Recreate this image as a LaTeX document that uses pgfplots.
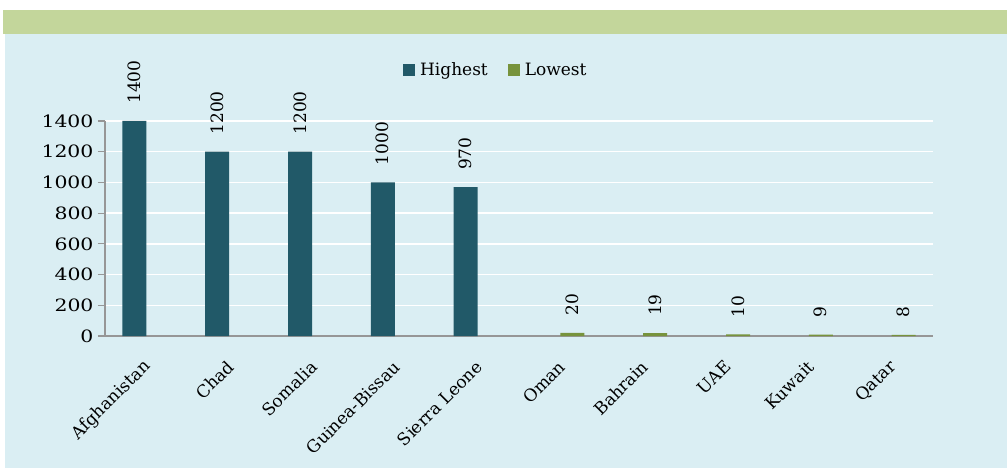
\documentclass[border=0pt]{standalone}
\usepackage{fontspec}
\setmainfont{DejaVu Serif}
\newfontfamily\widefont{DejaVu Serif}[FakeStretch=1.2]
\usepackage{pgfplots}
\pgfplotsset{compat=1.18}
\definecolor{bgblue}{RGB}{218,238,243}
\definecolor{bandgreen}{RGB}{195,214,155}
\definecolor{hiteal}{RGB}{33,89,104}
\definecolor{lowgreen}{RGB}{119,147,60}
\definecolor{axgray}{RGB}{150,150,150}
\newcommand\myfont{\fontsize{17pt}{20pt}\selectfont}
\begin{document}
\begin{tikzpicture}[x=1pt,y=1pt]
\fill[white] (0,0) rectangle (1007,469);
\fill[bgblue] (5,1) rectangle (1007,435);
\fill[bandgreen] (3,435) rectangle (1007,459);
\begin{axis}[
  at={(105pt,133pt)}, anchor=south west,
  scale only axis, width=828pt, height=215pt,
  ymin=0, ymax=1400, xmin=-0.5, xmax=9.5,
  ybar=0pt, bar width=24pt,
  clip=false,
  xtick={0,...,9},
  xticklabels={Afghanistan,Chad,Somalia,Guinea-Bissau,Sierra Leone,Oman,Bahrain,UAE,Kuwait,Qatar},
  ytick={0,200,...,1400},
  axis x line*=bottom, axis y line*=left,
  axis line style={axgray, line width=1.2pt, -},
  ymajorgrids, grid style={white, line width=1.5pt},
  tick align=outside, major tick length=7pt,
  x tick style={draw=none},
  y tick style={axgray, line width=1.2pt},
  /pgf/number format/assume math mode=true,
  /pgf/number format/1000 sep={},
  tick label style={font=\myfont, text=black},
  xticklabel style={rotate=45, anchor=east, yshift=-16pt, xshift=-10pt},
  yticklabel style={anchor=east, font=\myfont\widefont, xshift=-1pt},
  nodes near coords,
  every node near coord/.append style={rotate=90, anchor=west, font=\myfont, text=black, inner xsep=17pt},
  legend columns=2,
  legend style={at={(axis description cs:0.472,1.237)}, anchor=center, draw=none, fill=none, font=\myfont,
    /tikz/every odd column/.append style={column sep=3pt},
    /tikz/every even column/.append style={column sep=18pt}},
  legend image code/.code={\fill[#1] (0pt,-6pt) rectangle (12pt,6pt);},
]
\addplot[fill=hiteal, draw=none] coordinates {(0,1400) (1,1200) (2,1200) (3,1000) (4,970)};
\addplot[fill=lowgreen, draw=none] coordinates {(5,20) (6,19) (7,10) (8,9) (9,8)};
\legend{Highest,Lowest}
\end{axis}
\end{tikzpicture}
\end{document}
